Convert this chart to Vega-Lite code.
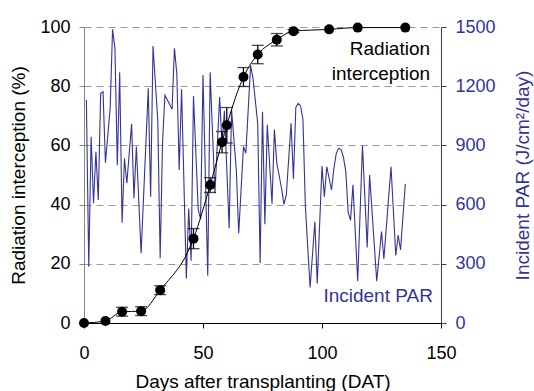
{
  "$schema": "https://vega.github.io/schema/vega-lite/v6.json",
  "width": 357,
  "height": 296,
  "autosize": "none",
  "padding": {"left": 84, "top": 27, "right": 93, "bottom": 68},
  "background": "white",
  "config": {
    "font": "Liberation Sans",
    "view": {"stroke": null},
    "axis": {"labelFont": "Liberation Sans", "titleFont": "Liberation Sans", "titleFontWeight": "normal", "labelFontSize": 18, "titleFontSize": 19, "labelColor": "black", "titleColor": "black", "labelFlush": false}
  },
  "datasets": {
    "par": [
      {"day": 1, "par": 1130}, {"day": 2, "par": 285}, {"day": 3, "par": 944}, {"day": 4, "par": 607},
      {"day": 5, "par": 868}, {"day": 6, "par": 623}, {"day": 7, "par": 1164}, {"day": 8, "par": 1172},
      {"day": 9, "par": 812}, {"day": 11, "par": 1088}, {"day": 12, "par": 1488}, {"day": 13, "par": 1392},
      {"day": 14, "par": 800}, {"day": 15, "par": 1270}, {"day": 16, "par": 508}, {"day": 17, "par": 835},
      {"day": 18, "par": 708}, {"day": 20, "par": 1009}, {"day": 21, "par": 632}, {"day": 22, "par": 894},
      {"day": 24, "par": 353}, {"day": 27, "par": 1189}, {"day": 28, "par": 640}, {"day": 29, "par": 1404},
      {"day": 31, "par": 1029}, {"day": 32, "par": 328}, {"day": 33, "par": 915}, {"day": 34, "par": 1155},
      {"day": 37, "par": 1083}, {"day": 38, "par": 1392}, {"day": 39, "par": 1265}, {"day": 40, "par": 775},
      {"day": 41, "par": 1184}, {"day": 43, "par": 226}, {"day": 44, "par": 580}, {"day": 45, "par": 315},
      {"day": 46, "par": 1150}, {"day": 48, "par": 575}, {"day": 49, "par": 526}, {"day": 50, "par": 1257},
      {"day": 52, "par": 240}, {"day": 53, "par": 1270}, {"day": 55, "par": 657}, {"day": 57, "par": 1145},
      {"day": 58, "par": 900}, {"day": 59, "par": 1075}, {"day": 61, "par": 480}, {"day": 62, "par": 1080},
      {"day": 64, "par": 775}, {"day": 65, "par": 455}, {"day": 67, "par": 894}, {"day": 68, "par": 860},
      {"day": 70, "par": 1305}, {"day": 71, "par": 1240}, {"day": 73, "par": 1010}, {"day": 74, "par": 304},
      {"day": 75, "par": 1070}, {"day": 76, "par": 500}, {"day": 77, "par": 1005}, {"day": 79, "par": 604},
      {"day": 80, "par": 980}, {"day": 81, "par": 810}, {"day": 83, "par": 683}, {"day": 84, "par": 601},
      {"day": 85, "par": 649}, {"day": 87, "par": 1012}, {"day": 88, "par": 730}, {"day": 89, "par": 1092},
      {"day": 90, "par": 1113}, {"day": 91, "par": 1100}, {"day": 92, "par": 1030}, {"day": 93, "par": 594},
      {"day": 95, "par": 180}, {"day": 97, "par": 513}, {"day": 98, "par": 200}, {"day": 100, "par": 795},
      {"day": 101, "par": 640}, {"day": 102, "par": 792}, {"day": 104, "par": 674}, {"day": 105, "par": 784},
      {"day": 106, "par": 860}, {"day": 107, "par": 885}, {"day": 108, "par": 880}, {"day": 109, "par": 840},
      {"day": 110, "par": 767}, {"day": 111, "par": 560}, {"day": 112, "par": 520}, {"day": 113, "par": 700},
      {"day": 115, "par": 212}, {"day": 117, "par": 900}, {"day": 119, "par": 383}, {"day": 120, "par": 750},
      {"day": 123, "par": 212}, {"day": 125, "par": 463}, {"day": 126, "par": 325}, {"day": 128, "par": 636},
      {"day": 129, "par": 792}, {"day": 131, "par": 342}, {"day": 132, "par": 446}, {"day": 133, "par": 370},
      {"day": 135, "par": 704}
    ],
    "ri": [
      {"day": 0, "ri": 0},
      {"day": 9, "ri": 0.7},
      {"day": 16, "ri": 3.8, "lo": 2.3, "hi": 5.3},
      {"day": 24, "ri": 4.0, "lo": 2.5, "hi": 5.5},
      {"day": 32, "ri": 11.1, "lo": 9.6, "hi": 12.6},
      {"day": 46, "ri": 28.5, "lo": 25.1, "hi": 31.9},
      {"day": 53, "ri": 46.6, "lo": 44.1, "hi": 49.1},
      {"day": 58, "ri": 61.1, "lo": 57.5, "hi": 64.7},
      {"day": 60, "ri": 66.8, "lo": 60.8, "hi": 72.8},
      {"day": 67, "ri": 83.1, "lo": 79.9, "hi": 86.3},
      {"day": 73, "ri": 90.7, "lo": 87.6, "hi": 93.8},
      {"day": 81, "ri": 95.7, "lo": 93.6, "hi": 97.8},
      {"day": 88, "ri": 98.6, "lo": 98.1, "hi": 99.1},
      {"day": 103, "ri": 99.2},
      {"day": 115, "ri": 99.8},
      {"day": 135, "ri": 99.8}
    ]
  },
  "layer": [
    {
      "layer": [
        {
          "data": {"name": "par"},
          "mark": {"type": "line", "color": "#333399", "strokeWidth": 1.1},
          "encoding": {
            "x": {"field": "day", "type": "quantitative", "scale": {"domain": [0, 150], "nice": false},
              "title": "Days after transplanting (DAT)",
              "axis": {"orient": "bottom", "values": [0, 50, 100, 150], "grid": false, "domainColor": "black", "tickColor": "black", "tickSize": 5, "labelFlush": false, "labelBaseline": "alphabetic", "labelPadding": 30, "titleX": 178.5, "titleY": 64, "titleBaseline": "alphabetic", "titleAlign": "center"}},
            "y": {"field": "par", "type": "quantitative", "scale": {"domain": [0, 1500], "nice": false},
              "title": "Incident PAR (J/cm²/day)",
              "axis": {"orient": "right", "values": [0, 300, 600, 900, 1200, 1500], "format": "d", "grid": false, "domainColor": "#333399", "tickColor": "#333399", "labelColor": "#333399", "titleColor": "#333399", "tickSize": 5, "labelPadding": 9, "titleAngle": -90, "titleX": 81, "titleY": 148, "titleBaseline": "middle", "titleAlign": "center"}}
          }
        },
        {
          "data": {"values": [{"label": "Incident PAR"}]},
          "mark": {"type": "text", "color": "#333399", "fontSize": 19, "align": "right", "baseline": "alphabetic", "font": "Liberation Sans"},
          "encoding": {
            "x": {"datum": 146.6, "type": "quantitative"},
            "y": {"datum": 108, "type": "quantitative"},
            "text": {"field": "label"}
          }
        }
      ]
    },
    {
      "layer": [
        {
          "data": {"name": "ri"},
          "mark": {"type": "line", "color": "black", "strokeWidth": 1, "interpolate": "monotone"},
          "encoding": {
            "x": {"field": "day", "type": "quantitative", "title": "Days after transplanting (DAT)"},
            "y": {"field": "ri", "type": "quantitative", "scale": {"domain": [0, 100], "nice": false},
              "title": "Radiation interception (%)",
              "axis": {"orient": "left", "values": [0, 20, 40, 60, 80, 100], "grid": true, "gridDash": [7, 5], "gridColor": "#999999", "gridWidth": 1, "domainColor": "#868686", "tickColor": "#868686", "tickSize": 5, "labelPadding": 9, "titleAngle": -90, "titleX": -66, "titleY": 148, "titleBaseline": "middle", "titleAlign": "center"}}
          }
        },
        {
          "data": {"name": "ri"},
          "transform": [{"filter": "datum.lo != null"}],
          "mark": {"type": "errorbar", "ticks": true, "size": 12, "thickness": 1.3, "color": "black"},
          "encoding": {
            "x": {"field": "day", "type": "quantitative", "title": "Days after transplanting (DAT)"},
            "y": {"field": "lo", "type": "quantitative", "title": "Radiation interception (%)"},
            "y2": {"field": "hi"}
          }
        },
        {
          "data": {"name": "ri"},
          "mark": {"type": "point", "filled": true, "shape": "circle", "size": 100, "color": "black", "opacity": 1},
          "encoding": {
            "x": {"field": "day", "type": "quantitative", "title": "Days after transplanting (DAT)"},
            "y": {"field": "ri", "type": "quantitative", "title": "Radiation interception (%)"}
          }
        },
        {
          "data": {"values": [{"label": "Radiation\ninterception"}]},
          "mark": {"type": "text", "color": "black", "fontSize": 19, "align": "right", "baseline": "alphabetic", "lineBreak": "\n", "lineHeight": 25, "font": "Liberation Sans"},
          "encoding": {
            "x": {"datum": 145.4, "type": "quantitative"},
            "y": {"datum": 90.5, "type": "quantitative"},
            "text": {"field": "label"}
          }
        }
      ]
    }
  ],
  "resolve": {"scale": {"y": "independent"}}
}
